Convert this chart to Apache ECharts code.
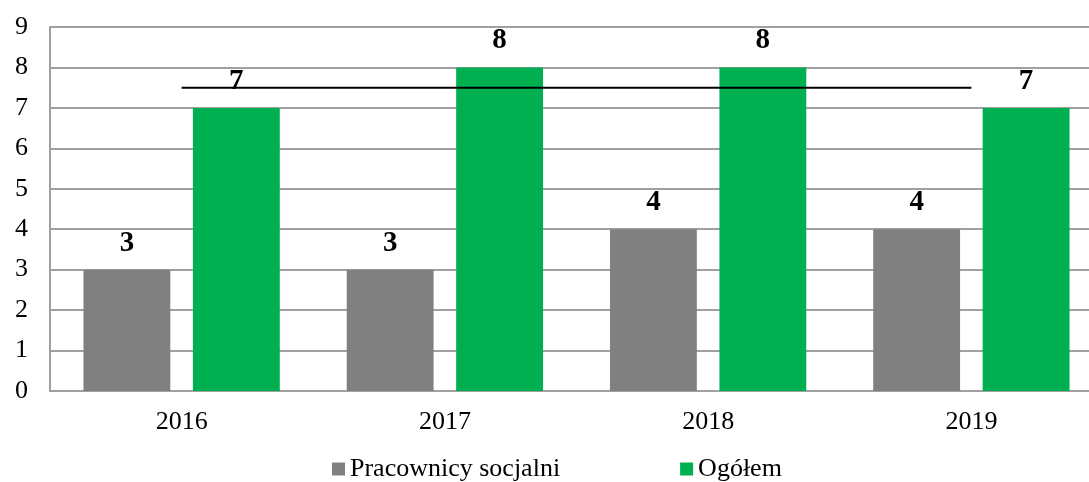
<!DOCTYPE html>
<html>
<head>
<meta charset="utf-8">
<script src="https://cdn.jsdelivr.net/npm/echarts@6/dist/echarts.min.js"></script>
<style>html,body{margin:0;padding:0;background:#fff;}#c{width:1089px;height:482px;}</style>
</head>
<body>
<div id="c"></div>
<script>
var categories = ['2016', '2017', '2018', '2019'];
var pracownicy = [3, 3, 4, 4];
var ogolem = [7, 8, 8, 7];
var linia = [7.5, 7.5, 7.5, 7.5];
var yTicks = [0, 9, 1];

var font = '"Liberation Serif", "Times New Roman", serif';
var chart = echarts.init(document.getElementById('c'), null, {renderer: 'canvas'});
var labelStyle = {
  show: true, position: 'top', distance: 12,
  fontFamily: font, fontSize: 29, fontWeight: 'bold', color: '#000'
};
chart.setOption({
  animation: false,
  backgroundColor: '#fff',
  textStyle: {fontFamily: font},
  grid: {left: 50, right: -14, top: 27, bottom: 91, containLabel: false, outerBoundsMode: 'none'},
  legend: {
    data: ['Pracownicy socjalni', 'Ogółem'],
    left: 327, top: 451,
    itemWidth: 13, itemHeight: 13, itemGap: 120,
    icon: 'rect',
    textStyle: {fontFamily: font, fontSize: 26, color: '#000'}
  },
  xAxis: {
    type: 'category', data: categories,
    axisLine: {show: true, lineStyle: {color: '#a0a0a0', width: 2}},
    axisTick: {show: false},
    axisLabel: {fontFamily: font, fontSize: 26, color: '#000', margin: 18}
  },
  yAxis: {
    type: 'value', min: yTicks[0], max: yTicks[1], interval: yTicks[2],
    axisLine: {show: true, lineStyle: {color: '#a0a0a0', width: 2}},
    axisTick: {show: false},
    splitLine: {lineStyle: {color: '#a0a0a0', width: 2}},
    axisLabel: {fontFamily: font, fontSize: 26, color: '#000', margin: 22}
  },
  series: [
    {
      name: 'Pracownicy socjalni', type: 'bar', data: pracownicy,
      barWidth: '33%', barGap: '26%',
      itemStyle: {color: '#808080'},
      label: labelStyle
    },
    {
      name: 'Ogółem', type: 'bar', data: ogolem,
      barWidth: '33%', barGap: '26%',
      itemStyle: {color: '#00b050'},
      label: labelStyle
    },
    {
      name: 'linia', type: 'line', data: linia,
      symbol: 'none', z: 5,
      lineStyle: {color: '#000', width: 2},
      silent: true
    }
  ]
});
</script>
</body>
</html>
